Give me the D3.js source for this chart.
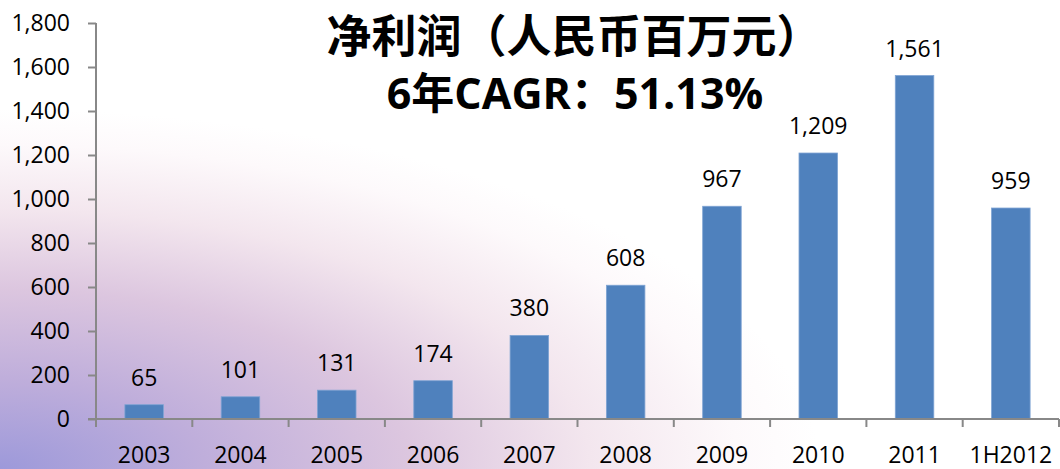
<!DOCTYPE html>
<html><head><meta charset="utf-8">
<script src="https://cdn.jsdelivr.net/npm/d3@7/dist/d3.min.js"></script>
<style>html,body{margin:0;padding:0;background:#fff;}svg{display:block;}</style>
</head><body>
<svg id="c" width="1060" height="469"></svg>
<script>
const categories = ["2003","2004","2005","2006","2007","2008","2009","2010","2011","1H2012"];
const values = [65,101,131,174,380,608,967,1209,1561,959];
const yTicks = [0,200,400,600,800,1000,1200,1400,1600,1800];
const titleLine1 = "净利润（人民币百万元）";
const titleLine2 = "6年CAGR：51.13%";

const W = 1060, H = 469;
const svg = d3.select("#c");
const defs = svg.append("defs");
const g = defs.append("radialGradient").attr("id","bg")
  .attr("gradientUnits","userSpaceOnUse")
  .attr("cx",0).attr("cy",0).attr("r",1)
  .attr("gradientTransform","translate(0,469) scale(820,360)");
[[0,"#9d99da"],[0.25,"#bfaedb"],[0.5,"#dcc6df"],[0.72,"#f3e6ee"],[0.9,"#fdf9fb"],[1,"#ffffff"]]
  .forEach(([o,c])=>g.append("stop").attr("offset",o).attr("stop-color",c));
svg.append("rect").attr("width",W).attr("height",H).attr("fill","#fff");
svg.append("rect").attr("width",W).attr("height",H).attr("fill","url(#bg)");

const x0 = 96, x1 = 1059, yTop = 23, yBot = 419;
const x = d3.scaleBand().domain(categories).range([x0,x1]).paddingInner(0.6).paddingOuter(0.3);
const y = d3.scaleLinear().domain([0,1800]).range([yBot,yTop]);
const font = "'Open Sans', 'Liberation Sans', sans-serif";
const fs = 23;

// bars
svg.append("g").selectAll("rect").data(values).join("rect")
  .attr("x",(d,i)=>x(categories[i]))
  .attr("y",d=>y(d))
  .attr("width",x.bandwidth())
  .attr("height",d=>y(0)-y(d))
  .attr("fill","#4f81bd")
  .attr("stroke","#7ea3d3").attr("stroke-width",0.8);

// y axis
const ya = svg.append("g").attr("transform",`translate(${x0},0)`)
  .call(d3.axisLeft(y).tickValues(yTicks).tickSize(8).tickPadding(18).tickFormat(d3.format(",")));
ya.select(".domain").attr("stroke","#888").attr("stroke-width",2).attr("d",`M-0,${yTop}V${yBot}`);
ya.selectAll(".tick line").attr("stroke","#888").attr("stroke-width",2);
ya.selectAll(".tick text").attr("font-family",font).attr("font-size",fs).attr("fill","#000");

// x axis with ticks at band boundaries
const xa = svg.append("g").attr("transform",`translate(0,${yBot})`);
xa.append("line").attr("x1",x0-8).attr("x2",x1).attr("stroke","#888").attr("stroke-width",2);
const step = x.step();
const bounds = categories.map((c,i)=>x0 + i*step).concat([x1]);
xa.selectAll("line.t").data(bounds).join("line").attr("class","t")
  .attr("x1",d=>d).attr("x2",d=>d).attr("y1",0).attr("y2",8)
  .attr("stroke","#888").attr("stroke-width",2);
xa.selectAll("text").data(categories).join("text")
  .attr("x",d=>x(d)+x.bandwidth()/2).attr("y",44)
  .attr("text-anchor","middle").attr("font-family",font).attr("font-size",fs).attr("fill","#000")
  .text(d=>d);

// data labels
svg.append("g").selectAll("text").data(values).join("text")
  .attr("x",(d,i)=>x(categories[i])+x.bandwidth()/2)
  .attr("y",d=>y(d)-19)
  .attr("text-anchor","middle").attr("font-family",font).attr("font-size",fs).attr("fill","#000")
  .text(d=>d3.format(",")(d));

// title
svg.append("text").attr("x",574).attr("y",53).attr("text-anchor","middle")
  .attr("font-family","'Noto Sans CJK SC', sans-serif").attr("font-weight",700).attr("font-size",45)
  .attr("fill","#000").text(titleLine1);
svg.append("text").attr("x",575).attr("y",109).attr("text-anchor","middle")
  .attr("font-family","'Open Sans','Noto Sans CJK SC', sans-serif").attr("font-weight",700).attr("font-size",43)
  .attr("fill","#000").text(titleLine2);
</script>
</body></html>
